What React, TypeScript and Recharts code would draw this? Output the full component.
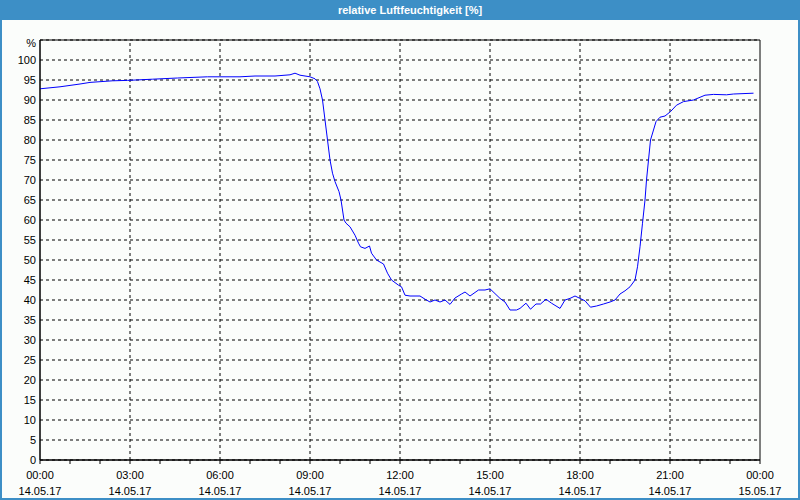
import { CartesianGrid, Line, LineChart, ReferenceArea, ReferenceLine, XAxis, YAxis } from "recharts"

// minutes since 14.05.17 00:00
const minutes = [
  0, 40, 80, 100, 145, 175, 225, 275, 335, 400, 430, 470, 500, 510, 520, 540, 550, 555, 560, 565,
  570, 575, 580, 585, 590, 598, 602, 608, 612, 620, 630, 637, 641, 650, 659, 663, 673, 687, 695, 703,
  717, 723, 730, 740, 760, 770, 780, 790, 800, 810, 820, 830, 843, 850, 860, 877, 890, 900, 920, 930,
  940, 953, 960, 972, 981, 992, 1001, 1012, 1023, 1040, 1050, 1060, 1070, 1080, 1090, 1101, 1113, 1127, 1140, 1150,
  1160, 1170, 1180, 1190, 1195, 1200, 1205, 1210, 1213, 1217, 1221, 1227, 1232, 1240, 1250, 1261, 1273, 1287, 1307, 1330,
  1347, 1373, 1387, 1427,
]

const humidity = [
  92.8, 93.3, 94.0, 94.4, 94.8, 94.9, 95.2, 95.5, 95.8, 95.8, 96.0, 96.0, 96.3, 96.7, 96.2, 95.8, 95.3, 94.6, 92.8, 90,
  85, 80, 75, 71.7, 69.6, 67.1, 65, 60, 59.2, 58.3, 56.2, 54.2, 53.3, 52.9, 53.5, 51.7, 50, 49, 46.7, 45,
  43.7, 43.3, 41.2, 41, 41, 40.2, 39.5, 40, 39.5, 40, 38.9, 40.5, 41.5, 42, 41, 42.5, 42.5, 42.8, 40.4, 39.5,
  37.5, 37.5, 37.9, 39.2, 37.7, 39, 39, 40.2, 39.2, 37.9, 40, 40.4, 41, 40.4, 39.8, 38.2, 38.5, 39, 39.5, 40,
  41.5, 42.3, 43.3, 45, 48.3, 53.3, 59.2, 65, 70, 75, 80, 82.5, 84.6, 85.7, 86, 87.1, 88.7, 89.6, 90, 91.2,
  91.4, 91.3, 91.5, 91.7,
]

const hourTicks = [0, 60, 120, 180, 240, 300, 360, 420, 480, 540, 600, 660, 720, 780, 840, 900, 960, 1020, 1080, 1140, 1200, 1260, 1320, 1380, 1440]
const majorTicks = [180, 360, 540, 720, 900, 1080, 1260]
const timeLabels = ["00:00", "03:00", "06:00", "09:00", "12:00", "15:00", "18:00", "21:00", "00:00"]
const dateLabels = ["14.05.17", "14.05.17", "14.05.17", "14.05.17", "14.05.17", "14.05.17", "14.05.17", "14.05.17", "15.05.17"]
const yTicks = [0, 5, 10, 15, 20, 25, 30, 35, 40, 45, 50, 55, 60, 65, 70, 75, 80, 85, 90, 95, 100]

const data = minutes.map((t, i) => ({ t, rh: humidity[i] }))

const font = "'Liberation Sans', Arial, sans-serif"
const blue = "#3d8fc6"
const bg = "#fbfdfb"

function TimeTick(props: any) {
  const { x, y, payload } = props
  if (payload.value % 180 !== 0) return null
  const i = payload.value / 180
  return (
    <g>
      <text x={x} y={y + 13} textAnchor="middle" fontSize={11} fontFamily={font} fill="#000">{timeLabels[i]}</text>
      <text x={x} y={y + 29} textAnchor="middle" fontSize={11} fontFamily={font} fill="#000">{dateLabels[i]}</text>
    </g>
  )
}

export default function App() {
  return (
    <div style={{ position: "absolute", left: 0, top: 0, width: 800, height: 500, background: bg, overflow: "hidden" }}>
      <div style={{ position: "absolute", left: 0, top: 0, width: 800, height: 20, background: blue, color: "#fff", fontFamily: font, fontSize: 11, fontWeight: "bold", lineHeight: "20px", textAlign: "center", paddingLeft: 20, boxSizing: "border-box" }}>
        relative Luftfeuchtigkeit [%]
      </div>
      <div style={{ position: "absolute", left: 0, top: 0, width: 800, height: 500, border: `2px solid ${blue}`, borderTop: "none", boxSizing: "border-box", pointerEvents: "none" }} />
      <div style={{ position: "absolute", left: 16, top: 37, width: 20, textAlign: "right", fontFamily: font, fontSize: 11, color: "#000" }}>%</div>
      <LineChart width={800} height={500} data={data} margin={{ top: 40, right: 40, bottom: 0, left: 0 }}>
        <CartesianGrid vertical={false} stroke="#000" strokeDasharray="3 3" />
        {majorTicks.map((t) => (
          <ReferenceLine key={t} x={t} stroke="#000" strokeDasharray="3 3" />
        ))}
        <ReferenceArea x1={0} x2={1440} y1={0} y2={105} fill="none" stroke="#000" strokeOpacity={1} fillOpacity={0} ifOverflow="extendDomain" />
        <XAxis
          dataKey="t"
          type="number"
          domain={[0, 1440]}
          ticks={hourTicks}
          interval={0}
          height={40}
          tickSize={4}
          tickLine={{ stroke: "#000" }}
          axisLine={{ stroke: "#000" }}
          tick={<TimeTick />}
        />
        <YAxis
          type="number"
          domain={[0, 105]}
          ticks={yTicks}
          interval={0}
          width={40}
          tickSize={0}
          tickMargin={4}
          tickLine={false}
          axisLine={{ stroke: "#000" }}
          tick={{ fontSize: 11, fontFamily: font, fill: "#000" }}
        />
        <Line dataKey="rh" type="linear" stroke="#0000ff" strokeWidth={1} dot={false} isAnimationActive={false} />
      </LineChart>
    </div>
  )
}
